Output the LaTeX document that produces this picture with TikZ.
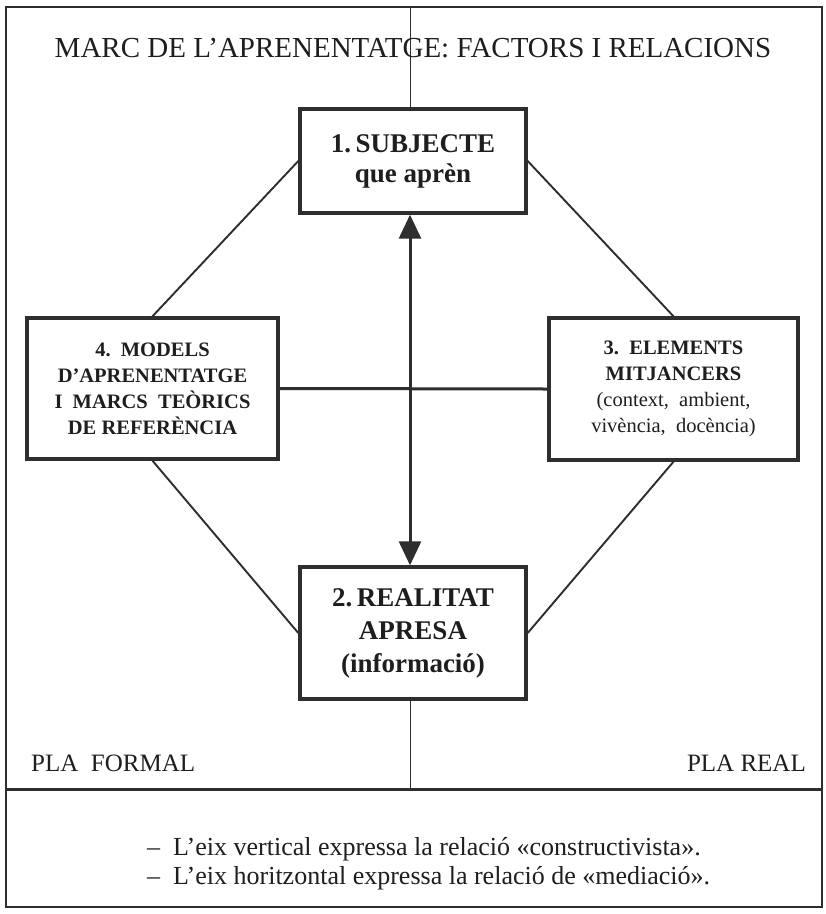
\documentclass[tikz,border=0pt]{standalone}
\usepackage{fontspec}
\setmainfont{Liberation Serif}
\usetikzlibrary{arrows.meta}
\definecolor{ink}{HTML}{2E2E2E}
\definecolor{txt}{HTML}{1E1E1E}
\begin{document}
\begin{tikzpicture}[x=1pt,y=-1pt,
  box/.style={draw=ink,line width=3.4pt,inner sep=0pt,align=center,text=txt},
  link/.style={draw=ink,line width=1.9pt},
  axisline/.style={draw=ink,line width=3pt},
  hair/.style={draw=ink,line width=0.9pt},
  lbl/.style={text=txt,inner sep=0pt}]
\useasboundingbox (0,0) rectangle (826,914);
\fill[white] (0,0) rectangle (826,914);
% outer frame and separator
\draw[ink,line width=2.5pt] (6,7) rectangle (822,907);
\coordinate (sepL) at (6,789);
\coordinate (sepR) at (822,789);
\draw[ink,line width=3pt] (sepL) -- (sepR);
% boxes
\node[box,minimum width=226pt,minimum height=104pt,font={\fontsize{27}{30}\selectfont\bfseries}] (b1) at (413,161) {1.\,SUBJECTE\\ que aprèn};
\node[box,minimum width=226pt,minimum height=132pt,font={\fontsize{27}{33}\selectfont\bfseries}] (b2) at (413,633) {2.\,REALITAT\\ APRESA\\ (informació)};
\node[box,minimum width=251pt,minimum height=141pt,font={\fontsize{20.5}{26}\selectfont\bfseries}] (b4) at (152.5,388.5) {4.\ \ MODELS\\ D’APRENENTATGE\\ I\ \ MARCS\ \ TEÒRICS\\ DE REFERÈNCIA};
\node[box,minimum width=249pt,minimum height=142pt,font={\fontsize{20.5}{26}\selectfont\bfseries}] (b3) at (673.5,389) {3.\ \ ELEMENTS\\ MITJANCERS\\ {\mdseries (context,\ \ ambient,}\\ {\mdseries vivència,\ \ docència)}};
% thin vertical axis pieces
\coordinate (top) at (410,7);
\coordinate (sep) at (410,789);
\draw[hair] (top) -- ([xshift=-3pt]b1.north);
\draw[hair] ([xshift=-3pt]b2.south) -- (sep);
% title
\node[lbl,font={\fontsize{29}{31}\selectfont}] (title) at (413,48) {MARC DE L’APRENENTATGE: FACTORS I RELACIONS};
% connectors
\draw[axisline,{Triangle[length=24pt,width=22pt]}-{Triangle[length=24pt,width=22pt]}] ([xshift=-3pt]b2.north) -- ([xshift=-3pt]b1.south);
\draw[axisline] (b4.east) -- (b3.west);
\draw[link] (b1.west) -- (b4.north);
\draw[link] (b4.south) -- (b2.west);
\draw[link] (b1.east) -- (b3.north);
\draw[link] (b3.south) -- (b2.east);
% plane labels
\node[lbl,anchor=west,font={\fontsize{25}{27}\selectfont}] (pf) at (31,763) {PLA\ \ FORMAL};
\node[lbl,anchor=east,font={\fontsize{25}{27}\selectfont}] (pr) at (806,763) {PLA REAL};
% notes
\node[lbl,anchor=west,font={\fontsize{26}{30}\selectfont}] (n1) at (147,849) {–\ \ L’eix vertical expressa la relació «constructivista».};
\node[lbl,anchor=west,font={\fontsize{26}{30}\selectfont}] (n2) at (147,878) {–\ \ L’eix horitzontal expressa la relació de «mediació».};
\end{tikzpicture}
\end{document}
